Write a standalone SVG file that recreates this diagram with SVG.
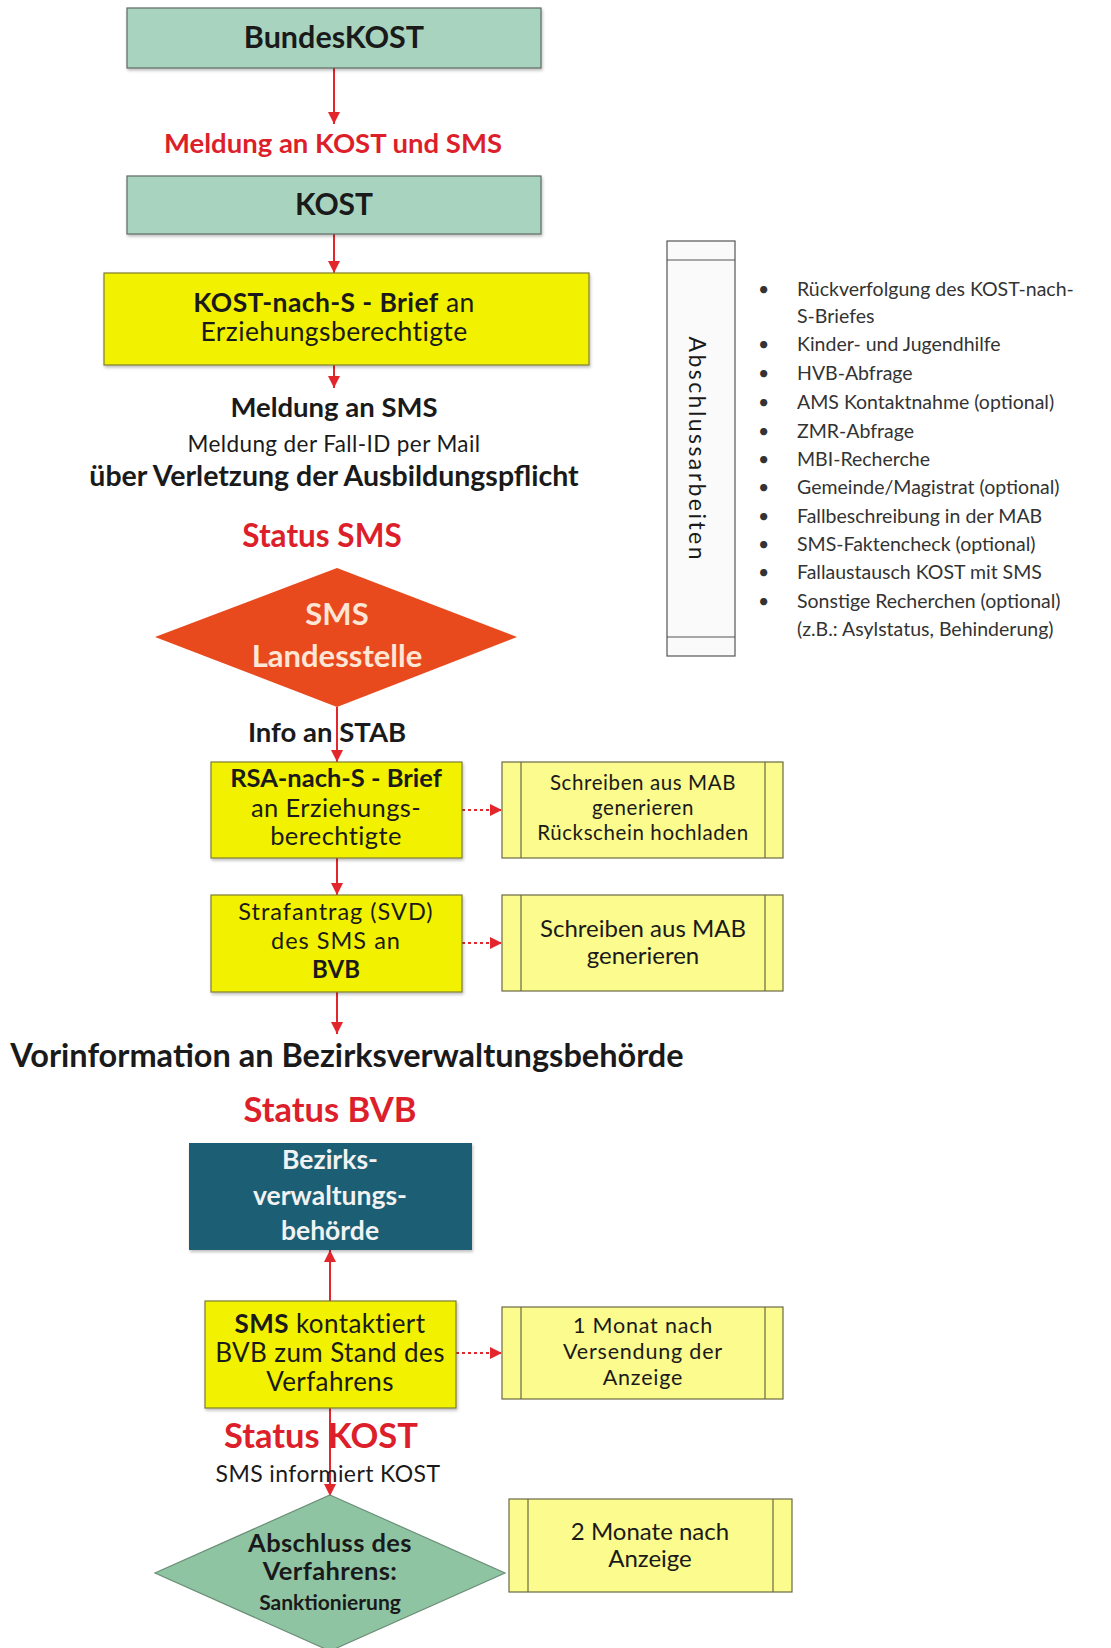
<svg xmlns="http://www.w3.org/2000/svg" width="1111" height="1648" viewBox="0 0 1111 1648">
<defs>
<style>
text{font-family:Lato,"Liberation Sans",sans-serif;fill:#1a1a1a}
.c{text-anchor:middle}
.b{font-weight:bold}
.r{letter-spacing:0.4px}
.red{fill:#dc1f2a;font-weight:bold}
.green{fill:#a8d4bf;stroke:#5e6b64;stroke-width:1.2}
.yel{fill:#f2f200;stroke:#7d7d35;stroke-width:1.2}
.ly{fill:#fbfb8e;stroke:#6b6b45;stroke-width:1.2}
.in{stroke:#6b6b45;stroke-width:1.2}
.ln{stroke:#e3262b;stroke-width:2;fill:none}
.dt{stroke:#e3262b;stroke-width:2;fill:none;stroke-dasharray:3 3}
.lst{font-size:19.5px;fill:#333}
</style>
<marker id="ah" viewBox="0 0 10 10" refX="10" refY="5" markerWidth="6" markerHeight="6" markerUnits="strokeWidth" orient="auto">
<path d="M0,0 L10,5 L0,10 Z" fill="#e3262b"/>
</marker>
<filter id="sh" x="-5%" y="-5%" width="110%" height="115%">
<feDropShadow dx="1" dy="2" stdDeviation="1.5" flood-color="#000" flood-opacity="0.25"/>
</filter>
</defs>

<g id="connectors">
<line class="ln" x1="334" y1="68" x2="334" y2="124" marker-end="url(#ah)"/>
<line class="ln" x1="334" y1="234" x2="334" y2="273" marker-end="url(#ah)"/>
<line class="ln" x1="334" y1="365" x2="334" y2="388" marker-end="url(#ah)"/>
<line class="ln" x1="337" y1="707" x2="337" y2="762" marker-end="url(#ah)"/>
<line class="ln" x1="337" y1="858" x2="337" y2="895" marker-end="url(#ah)"/>
<line class="ln" x1="337" y1="992" x2="337" y2="1034" marker-end="url(#ah)"/>
<line class="ln" x1="330" y1="1301" x2="330" y2="1250" marker-end="url(#ah)"/>
<line class="ln" x1="330" y1="1408" x2="330" y2="1496" marker-end="url(#ah)"/>
<line class="dt" x1="462" y1="810" x2="502" y2="810" marker-end="url(#ah)"/>
<line class="dt" x1="462" y1="943" x2="502" y2="943" marker-end="url(#ah)"/>
<line class="dt" x1="456" y1="1353" x2="502" y2="1353" marker-end="url(#ah)"/>
</g>

<g id="bundeskost">
<rect class="green" x="127" y="8" width="414" height="60" filter="url(#sh)"/>
<text class="c b" x="334" y="48" font-size="30.5">BundesKOST</text>
</g>

<g id="label-meldung-kost-sms">
<text class="c red" x="333" y="153" font-size="27.5">Meldung an KOST und SMS</text>
</g>

<g id="kost">
<rect class="green" x="127" y="176" width="414" height="58" filter="url(#sh)"/>
<text class="c b" x="334" y="215" font-size="30">KOST</text>
</g>

<g id="kost-brief">
<rect class="yel" x="104" y="273" width="485" height="92" filter="url(#sh)"/>
<text class="c r" x="334" y="312" font-size="26.5"><tspan font-weight="bold">KOST-nach-S - Brief</tspan> an</text>
<text class="c r" x="334" y="341" font-size="26.5">Erziehungsberechtigte</text>
</g>

<g id="label-meldung-sms">
<text class="c b" x="334" y="417" font-size="27.5">Meldung an SMS</text>
<text class="c r" x="334" y="452" font-size="22.5" fill="#333">Meldung der Fall-ID per Mail</text>
<text class="c b" x="334" y="486" font-size="28.5">über Verletzung der Ausbildungspflicht</text>
</g>

<g id="label-status-sms">
<text class="c red" x="322" y="547" font-size="31.5">Status SMS</text>
</g>

<g id="sms-landesstelle">
<polygon points="337,568 517,637 337,707 155,637" fill="#e84a1e"/>
<text class="c b" x="337" y="625" font-size="31" style="fill:#fde6d5">SMS</text>
<text class="c b" x="337" y="667" font-size="31" style="fill:#fde6d5">Landesstelle</text>
</g>

<g id="label-info-stab">
<text class="c b" x="327" y="742" font-size="27.5">Info an STAB</text>
</g>

<g id="rsa-brief">
<rect class="yel" x="211" y="762" width="251" height="96" filter="url(#sh)"/>
<text class="c b" x="336" y="787" font-size="25.5">RSA-nach-S - Brief</text>
<text class="c r" x="336" y="817" font-size="25.5">an Erziehungs-</text>
<text class="c r" x="336" y="845" font-size="25.5">berechtigte</text>
</g>

<g id="note-rsa">
<rect class="ly" x="502" y="762" width="281" height="96"/>
<line class="in" x1="521" y1="762" x2="521" y2="858"/>
<line class="in" x1="765" y1="762" x2="765" y2="858"/>
<text class="c" x="643" y="790" font-size="20.5" letter-spacing="0.6">Schreiben aus MAB</text>
<text class="c" x="643" y="815" font-size="20.5" letter-spacing="0.6">generieren</text>
<text class="c" x="643" y="840" font-size="20.5" letter-spacing="0.6">Rückschein hochladen</text>
</g>

<g id="strafantrag">
<rect class="yel" x="211" y="895" width="251" height="97" filter="url(#sh)"/>
<text class="c" x="336" y="920" font-size="23.5" letter-spacing="1">Strafantrag (SVD)</text>
<text class="c" x="336" y="949" font-size="23.5" letter-spacing="1">des SMS an</text>
<text class="c b" x="336" y="978" font-size="24">BVB</text>
</g>

<g id="note-strafantrag">
<rect class="ly" x="502" y="895" width="281" height="96"/>
<line class="in" x1="521" y1="895" x2="521" y2="991"/>
<line class="in" x1="765" y1="895" x2="765" y2="991"/>
<text class="c" x="643" y="937" font-size="24">Schreiben aus MAB</text>
<text class="c" x="643" y="964" font-size="24">generieren</text>
</g>

<g id="label-vorinformation">
<text class="c b" x="347" y="1067" font-size="32.5">Vorinformation an Bezirksverwaltungsbehörde</text>
</g>

<g id="label-status-bvb">
<text class="c red" x="330" y="1122" font-size="34.5">Status BVB</text>
</g>

<g id="bvb">
<rect x="189" y="1143" width="283" height="107" fill="#1f5f74" filter="url(#sh)"/>
<text class="c b" x="330" y="1169" font-size="26.5" style="fill:#f2f2f2">Bezirks-</text>
<text class="c b" x="330" y="1205" font-size="26.5" style="fill:#f2f2f2">verwaltungs-</text>
<text class="c b" x="330" y="1240" font-size="26.5" style="fill:#f2f2f2">behörde</text>
</g>

<g id="sms-kontaktiert">
<rect class="yel" x="205" y="1301" width="251" height="107" filter="url(#sh)"/>
<text class="c r" x="330" y="1333" font-size="26"><tspan font-weight="bold">SMS</tspan> kontaktiert</text>
<text class="c r" x="330" y="1362" font-size="26">BVB zum Stand des</text>
<text class="c r" x="330" y="1391" font-size="26">Verfahrens</text>
</g>

<g id="note-monat1">
<rect class="ly" x="502" y="1307" width="281" height="92"/>
<line class="in" x1="521" y1="1307" x2="521" y2="1399"/>
<line class="in" x1="765" y1="1307" x2="765" y2="1399"/>
<text class="c" x="643" y="1333" font-size="21.5" letter-spacing="0.8">1 Monat nach</text>
<text class="c" x="643" y="1359" font-size="21.5" letter-spacing="0.8">Versendung der</text>
<text class="c" x="643" y="1385" font-size="21.5" letter-spacing="0.8">Anzeige</text>
</g>

<g id="label-status-kost">
<text class="c red" x="321" y="1448" font-size="34.5">Status KOST</text>
<text class="c r" x="328" y="1482" font-size="23" fill="#333">SMS informiert KOST</text>
</g>

<g id="abschluss">
<polygon points="330,1495 505,1573 330,1651 155,1573" fill="#8fc4a2" stroke="#6b8f77" stroke-width="1.2"/>
<text class="c b r" x="330" y="1552" font-size="25.5">Abschluss des</text>
<text class="c b r" x="330" y="1580" font-size="25.5">Verfahrens:</text>
<text class="c b" x="330" y="1610" font-size="21">Sanktionierung</text>
</g>

<g id="note-monate2">
<rect class="ly" x="509" y="1499" width="283" height="93"/>
<line class="in" x1="528" y1="1499" x2="528" y2="1592"/>
<line class="in" x1="773" y1="1499" x2="773" y2="1592"/>
<text class="c" x="650" y="1540" font-size="24">2 Monate nach</text>
<text class="c" x="650" y="1567" font-size="24">Anzeige</text>
</g>

<g id="abschlussarbeiten">
<rect x="667" y="241" width="68" height="415" fill="#fafafa" stroke="#555" stroke-width="1.2"/>
<line x1="667" y1="260" x2="735" y2="260" stroke="#555" stroke-width="1.2"/>
<line x1="667" y1="637" x2="735" y2="637" stroke="#555" stroke-width="1.2"/>
<text class="c" x="698" y="448" font-size="23" dominant-baseline="central" textLength="223" transform="rotate(90 698 448)">Abschlussarbeiten</text>
</g>

<g id="list">
<text class="lst" x="758" y="296">•</text><text class="lst" x="797" y="296">Rückverfolgung des KOST-nach-</text>
<text class="lst" x="797" y="323">S-Briefes</text>
<text class="lst" x="758" y="351">•</text><text class="lst" x="797" y="351">Kinder- und Jugendhilfe</text>
<text class="lst" x="758" y="380">•</text><text class="lst" x="797" y="380">HVB-Abfrage</text>
<text class="lst" x="758" y="409">•</text><text class="lst" x="797" y="409">AMS Kontaktnahme (optional)</text>
<text class="lst" x="758" y="438">•</text><text class="lst" x="797" y="438">ZMR-Abfrage</text>
<text class="lst" x="758" y="466">•</text><text class="lst" x="797" y="466">MBI-Recherche</text>
<text class="lst" x="758" y="494">•</text><text class="lst" x="797" y="494">Gemeinde/Magistrat (optional)</text>
<text class="lst" x="758" y="523">•</text><text class="lst" x="797" y="523">Fallbeschreibung in der MAB</text>
<text class="lst" x="758" y="551">•</text><text class="lst" x="797" y="551">SMS-Faktencheck (optional)</text>
<text class="lst" x="758" y="579">•</text><text class="lst" x="797" y="579">Fallaustausch KOST mit SMS</text>
<text class="lst" x="758" y="608">•</text><text class="lst" x="797" y="608">Sonstige Recherchen (optional)</text>
<text class="lst" x="797" y="636">(z.B.: Asylstatus, Behinderung)</text>
</g>
</svg>
